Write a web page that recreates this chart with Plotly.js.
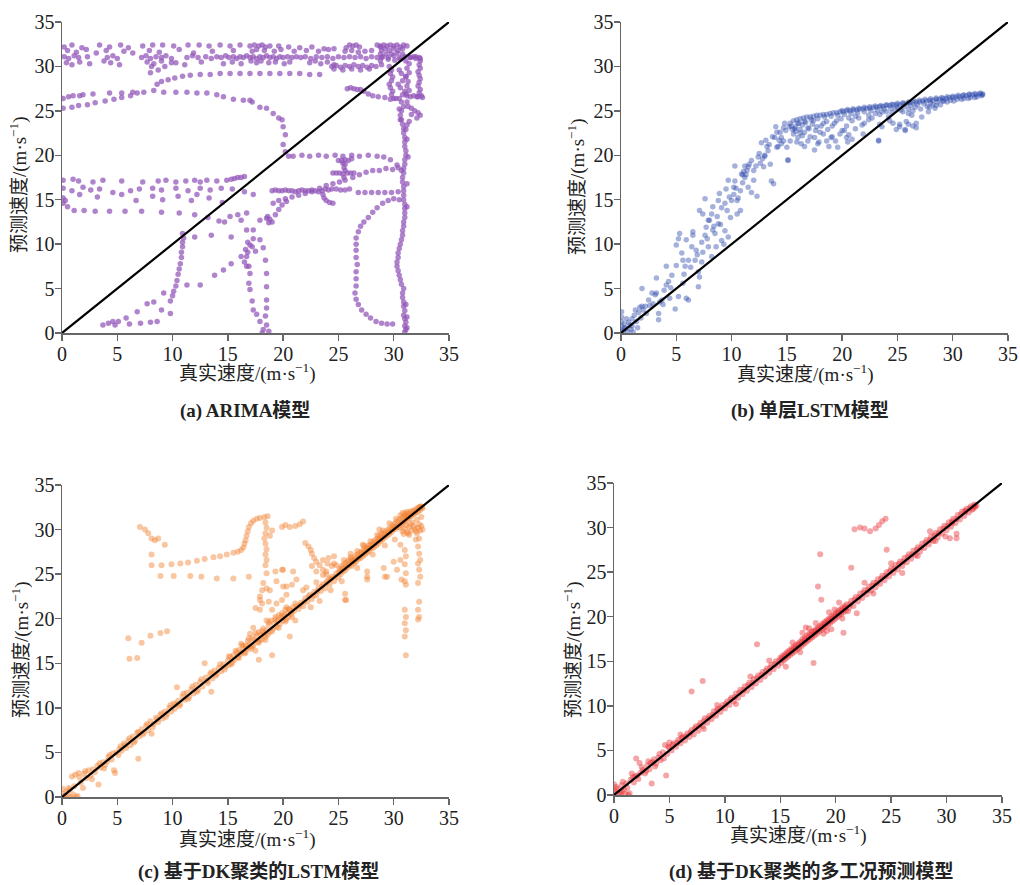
<!DOCTYPE html>
<html>
<head>
<meta charset="utf-8">
<script src="https://cdn.plot.ly/plotly-3.0.1.min.js"></script>
<style>
  html, body { margin: 0; padding: 0; background: #fff; }
  #chart { width: 1020px; height: 885px; }
</style>
</head>
<body>
<div id="chart"></div>
<script>
// ---------- shared axis settings ----------
const axisTicks = [0, 5, 10, 15, 20, 25, 30, 35];
const axisRange = [0, 35];
const refLine = [0, 35];          // y = x reference line end points

const panelCaptions = [
  "(a) ARIMA模型",
  "(b) 单层LSTM模型",
  "(c) 基于DK聚类的LSTM模型",
  "(d) 基于DK聚类的多工况预测模型"
];
const xTitle = "真实速度/(m·s<sup>−1</sup>)";
const yTitle = "预测速度/(m·s<sup>−1</sup>)";

// ---------- (a) ARIMA: [true speed, predicted speed] ----------
const arimaTopRow = [[0.2,32.2],[0.9,32.4],[1.8,32.1],[3.4,32.4],[4.3,32.2],[5.3,32.4],[6.0,32.1],[7.3,32.3],[8.2,32.4],[9.1,32.4],[10.1,32.3],[11.4,32.4],[12.4,32.4],[13.3,32.3],[14.3,32.4],[15.2,32.3],[16.1,32.4],[17.0,32.3],[17.4,32.4],[17.8,32.3],[18.1,32.4],[18.4,32.2],[18.8,32.3],[19.6,32.3],[20.5,32.2],[21.5,32.1],[22.6,32.2],[23.7,32.0],[24.6,32.0],[25.7,32.1],[26.0,32.4],[26.3,32.3],[26.6,32.4],[26.9,32.2],[28.5,32.4],[28.8,32.3],[29.1,32.4],[29.4,32.3],[29.7,32.4],[30.0,32.3],[30.3,32.4],[30.6,32.2],[30.9,32.4],[31.2,32.3]];
const arimaRow318 = [[0.5,31.8],[1.3,31.6],[2.2,31.9],[3.1,31.5],[4.0,31.8],[5.6,31.7],[6.4,31.5],[7.9,31.8],[8.8,31.6],[10.6,31.9],[11.9,31.5],[13.6,31.7],[15.5,31.8],[17.2,31.7],[17.6,31.9],[18.3,31.8],[19.2,31.7],[19.8,31.9],[21.0,31.7],[22.1,31.8],[23.2,31.7],[24.1,31.9],[25.6,31.7],[26.2,31.8],[26.8,31.6],[27.4,31.7],[28.0,31.8]];
const arimaRow31 = [[0.2,31.1],[0.6,30.9],[1.1,31.2],[1.5,31.0],[2.3,31.1],[4.1,31.0],[4.6,31.2],[5.0,30.9],[7.2,31.0],[7.6,31.2],[8.0,30.9],[8.5,31.1],[9.0,31.0],[9.4,31.2],[9.9,30.9],[11.3,31.0],[11.8,31.2],[12.3,31.0],[13.0,31.1],[13.5,30.9],[14.0,31.1],[14.4,31.0],[14.8,31.2],[15.1,31.0],[15.5,31.1],[15.8,30.9],[16.1,31.1],[16.4,31.0],[16.7,31.2],[17.0,31.0],[17.3,31.1],[17.6,30.9],[17.9,31.1],[18.2,31.0],[18.5,31.2],[18.8,31.0],[19.1,31.1],[19.4,30.9],[19.7,31.1],[20.0,31.0],[20.4,31.1],[20.8,31.0],[21.2,31.1],[21.6,31.0],[22.0,31.1],[22.5,30.9],[23.0,31.1],[23.5,31.0],[24.0,31.1],[24.5,30.9],[25.0,31.1],[25.5,31.0],[26.0,31.1],[26.5,31.0],[27.0,31.1],[27.5,30.9],[28.0,31.1],[28.5,31.0],[29.0,31.1],[29.5,31.0],[30.0,31.2],[30.5,31.0],[31.0,31.1],[31.5,31.0],[32.0,31.1],[32.4,30.9]];
const arimaRow305 = [[0.4,30.4],[0.9,30.2],[1.6,30.5],[2.5,30.3],[3.8,30.6],[4.4,30.4],[5.2,30.2],[7.7,30.5],[8.3,30.3],[9.0,30.6],[10.3,30.4],[11.1,30.2],[12.6,30.5],[14.6,30.3],[15.4,30.5],[16.2,30.3],[17.1,30.6],[17.6,30.4],[18.0,30.6],[18.7,30.4],[19.3,30.5],[20.1,30.3],[20.6,30.5],[22.4,30.4],[22.9,30.6],[23.4,30.3],[24.0,30.5],[24.6,30.2],[24.4,30.0],[24.8,30.1],[25.2,29.9],[25.6,30.1],[26.0,30.0],[26.4,30.2],[26.8,30.0],[27.2,30.1],[27.6,29.9],[28.0,30.1],[28.4,30.0],[24.6,29.7],[25.4,29.6],[26.2,29.7],[27.0,29.6],[27.8,29.7]];
const arimaCurve29 = [[8.1,30.0],[8.7,29.6],[9.3,30.0],[9.9,30.4],[8.0,29.3],[8.6,28.0],[9.0,28.3],[9.6,28.5],[10.2,28.7],[10.9,28.9],[11.6,29.0],[12.5,29.1],[13.4,29.1],[14.3,29.2],[15.2,29.2],[16.1,29.2],[17.0,29.2],[17.9,29.2],[18.8,29.2],[19.7,29.2],[20.6,29.2],[21.5,29.2],[22.4,29.1],[23.3,29.1]];
const arimaArc = [[0.1,26.4],[0.6,26.6],[1.0,26.7],[1.6,26.7],[1.9,26.8],[2.8,26.9],[4.3,27.0],[5.4,27.0],[6.4,27.1],[6.8,27.0],[7.4,27.1],[8.3,27.3],[0.1,25.3],[0.9,25.4],[1.5,25.6],[2.3,25.7],[3.0,25.9],[3.9,26.1],[4.7,26.3],[5.4,26.5],[6.2,26.7],[9.2,27.1],[10.3,27.1],[11.3,27.1],[12.2,27.0],[13.1,27.0],[14.0,26.8],[14.6,26.6],[15.5,26.3],[16.4,26.2],[17.0,26.2],[17.2,26.0],[17.9,25.4],[18.5,25.3],[19.1,24.7],[19.6,24.2],[19.9,24.0],[20.0,23.2],[20.2,22.3],[20.0,21.2],[20.2,20.4],[20.5,19.9]];
const arimaRow20 = [[20.9,19.9],[21.7,20.0],[22.4,19.9],[23.2,20.0],[23.9,19.9],[24.7,20.0],[25.4,19.9],[26.2,20.0],[26.9,19.9],[27.7,20.0],[28.5,19.9],[29.1,19.8],[29.7,19.5],[30.3,18.9],[30.7,18.3]];
const arimaMainVertical = [[31.0,0.1],[31.1,0.4],[31.0,0.8],[31.1,1.2],[31.0,1.6],[30.9,2.0],[31.0,2.5],[30.9,3.0],[30.9,3.5],[30.8,4.0],[30.8,4.5],[30.9,5.0],[30.7,5.5],[30.6,6.0],[30.5,6.5],[30.4,7.0],[30.3,7.5],[30.3,8.0],[30.4,8.5],[30.4,9.0],[30.5,9.5],[30.6,10.0],[30.7,10.5],[30.8,11.0],[30.8,11.5],[30.9,12.0],[30.9,12.5],[31.0,13.0],[31.0,13.5],[31.0,14.0],[31.0,14.5],[30.9,15.0],[30.9,15.5],[30.9,16.0],[30.9,16.5],[30.8,17.0],[30.8,17.5],[30.9,18.0],[30.9,18.5],[31.0,19.0],[31.0,19.5],[31.1,20.0],[31.1,20.5],[31.0,21.0],[31.0,21.5],[31.0,22.0],[30.9,22.5],[30.9,23.0],[30.8,23.5],[30.7,24.0],[30.6,24.5],[30.7,25.0],[30.9,25.5],[30.7,26.0],[30.5,26.4],[30.8,26.8],[31.0,27.2],[30.6,27.6],[30.4,28.0],[30.8,28.4],[31.1,28.8],[30.7,29.2],[30.5,29.6],[31.2,0.6],[31.2,1.8],[31.1,3.2],[31.2,14.2],[31.2,16.8],[31.3,19.8],[31.2,21.8],[30.6,24.0],[30.5,25.2]];
const arimaRightBox = [[32.3,31.0],[32.4,30.6],[32.3,30.2],[32.4,29.8],[32.2,29.4],[32.3,29.0],[32.4,28.6],[32.3,28.2],[32.2,27.8],[32.4,27.4],[32.3,27.0],[32.2,26.6],[31.8,31.1],[31.5,31.0],[32.0,30.9],[31.2,26.7],[31.5,26.6],[31.8,26.7],[32.1,26.6],[32.5,26.7],[32.6,26.5],[31.6,25.3],[31.9,25.0],[32.2,24.8],[32.4,24.5],[32.1,24.2],[31.6,24.6],[31.3,25.5],[31.2,26.0],[31.4,23.8],[31.2,23.4],[31.1,22.9],[29.6,30.0],[29.8,29.6],[29.7,29.2],[29.9,28.8],[29.8,28.4],[29.6,28.0],[29.7,27.6],[29.9,27.2],[29.8,26.8],[30.0,26.4],[28.8,32.2],[28.9,31.8],[28.8,31.4],[28.9,31.0],[28.8,30.6],[28.9,30.2],[29.2,32.0],[29.6,31.8],[30.0,32.0],[30.4,31.8],[30.8,32.0],[29.3,31.4],[29.8,31.4],[30.3,31.5],[30.8,31.4],[29.5,30.8],[30.1,30.7],[30.6,30.8],[31.1,30.6],[31.4,30.3],[31.2,29.8],[31.4,29.3],[31.1,28.9],[31.3,28.3],[31.2,27.8],[31.4,27.3],[31.1,26.9]];
const arimaRow275 = [[25.8,27.5],[26.1,27.6],[26.4,27.5],[26.7,27.4],[27.0,27.4],[27.3,27.2],[27.7,26.9],[28.1,26.7],[28.6,26.6],[29.2,26.5],[29.7,26.3],[30.2,26.4]];
const arimaCross = [[25.0,19.4],[25.3,19.4],[25.6,19.5],[25.9,19.4],[26.2,19.6],[25.6,19.0],[25.5,18.6],[25.6,18.3],[25.5,17.5],[25.6,17.2],[24.5,18.0],[24.8,18.0],[25.1,18.0],[25.4,17.9],[25.8,18.0],[26.1,18.0],[26.4,18.0],[25.4,19.1]];
const arimaRow16 = [[19.0,16.0],[19.3,16.1],[19.6,16.0],[19.9,16.0],[20.2,16.1],[20.5,16.0],[20.8,16.0],[21.1,15.9],[21.4,16.0],[21.7,16.1],[22.0,16.0],[22.3,16.0],[22.6,16.1],[22.9,16.0],[23.2,15.9],[23.5,16.0],[23.8,16.2],[24.1,16.1],[24.4,16.2],[24.8,16.2],[25.2,16.1],[25.6,16.1],[26.0,16.2],[26.8,15.8],[27.4,15.8],[28.0,15.8],[28.6,15.8],[29.2,15.8],[29.8,15.8],[30.4,15.9],[23.6,15.6],[23.7,15.2],[23.9,14.9],[24.2,14.7],[24.5,14.6]];
const arimaRise = [[19.1,14.6],[19.6,14.9],[20.2,15.1],[20.8,15.3],[21.4,15.5],[22.0,15.7],[22.6,15.9],[23.3,16.3],[23.9,16.6],[24.5,16.8],[25.1,17.0],[26.3,17.5],[26.9,17.8],[27.5,18.1],[28.1,18.3],[28.7,18.3],[29.3,18.5],[29.9,18.4],[30.4,18.6]];
const arimaLeftRows = [[0.1,17.2],[1.0,17.3],[1.5,17.1],[2.8,17.0],[3.7,17.2],[5.4,17.1],[7.3,17.0],[8.7,17.1],[9.4,17.2],[10.3,17.0],[11.2,17.1],[12.0,17.2],[12.5,17.0],[13.1,17.2],[14.0,17.1],[14.9,17.2],[15.3,17.3],[15.6,17.4],[15.9,17.5],[16.2,17.5],[16.5,17.6],[0.1,16.3],[0.9,16.0],[1.9,16.4],[2.6,16.1],[3.4,16.2],[4.6,15.8],[6.2,16.0],[7.0,16.2],[8.2,16.3],[9.0,16.1],[10.3,16.3],[11.4,16.0],[12.5,16.3],[13.4,16.1],[14.4,16.3],[15.4,16.2],[16.5,15.9],[17.3,15.6],[0.1,15.2],[0.3,14.9],[1.6,15.6],[3.2,15.3],[5.4,15.6],[6.7,14.9],[8.2,15.4],[9.1,15.0],[10.5,15.4],[11.7,14.9],[12.2,15.6],[13.3,15.2],[14.5,14.7],[0.1,14.6],[0.5,14.2],[1.1,13.8],[2.0,13.8],[3.0,13.7],[4.3,13.7],[5.7,13.7],[7.2,13.7],[9.0,13.6],[10.6,13.5],[12.0,13.3],[13.2,13.0],[14.2,12.6]];
const arimaLowLeft = [[3.7,0.9],[4.2,1.1],[4.6,1.3],[4.8,0.9],[5.1,1.3],[5.8,1.7],[6.1,1.0],[7.1,1.1],[8.0,1.2],[8.6,1.3],[6.8,2.4],[7.7,3.3],[8.3,3.5],[9.2,4.5],[9.8,2.2],[9.0,2.6],[10.9,11.2],[11.0,10.7],[10.9,10.2],[10.9,9.7],[10.8,9.1],[10.8,8.5],[10.7,7.8],[10.6,7.2],[10.5,6.6],[10.4,5.9],[10.3,5.3],[10.1,4.7],[10.0,4.2],[9.8,3.6],[11.3,5.4],[12.5,5.4],[13.8,6.5],[14.6,7.1],[15.3,7.8],[16.2,8.6],[16.5,8.0],[16.8,9.1],[17.2,9.7],[12.0,10.8],[13.5,11.0],[14.7,12.5],[15.3,10.8],[16.2,12.7],[16.7,11.6],[17.3,10.6],[15.2,13.1],[15.9,13.3],[16.7,13.5]];
const arimaLowMid = [[16.7,8.6],[16.9,7.5],[16.7,7.5],[17.0,6.7],[16.9,5.6],[17.0,4.9],[17.2,3.6],[17.3,2.6],[17.6,2.1],[17.9,1.3],[18.2,0.4],[18.1,0.0],[17.9,10.5],[18.2,9.6],[18.4,8.2],[18.5,6.7],[18.5,5.2],[18.5,3.7],[18.5,2.8],[18.4,1.9],[18.5,0.9],[18.7,0.2],[17.3,11.6],[17.9,12.7],[18.5,12.9],[18.7,12.4],[19.0,12.5],[19.3,13.3],[19.6,13.9],[19.9,14.4],[20.3,14.8],[16.6,9.4],[17.0,9.9],[17.5,9.2],[16.8,10.2],[18.8,12.8],[18.6,13.1]];
const arimaLoop = [[30.5,15.0],[30.0,15.1],[29.5,14.9],[29.0,14.6],[28.5,14.1],[28.1,13.6],[27.7,13.0],[27.3,12.5],[27.0,12.0],[26.8,11.4],[26.6,10.7],[26.6,10.0],[26.6,9.3],[26.6,8.5],[26.7,7.7],[26.6,6.9],[26.6,6.1],[26.6,5.3],[26.5,4.5],[26.6,3.8],[26.8,3.2],[27.1,2.6],[27.5,2.1],[27.9,1.7],[28.4,1.3],[28.9,1.1],[29.4,1.0],[29.9,1.0]];

// ---------- (b) single-layer LSTM ----------
const lstmNearOrigin = [[0.05,0.3],[0.05,0.8],[0.05,1.3],[0.05,1.8],[0.05,2.4],[0.2,0.2],[0.3,1.0],[0.4,0.5],[0.5,1.6],[0.6,0.2],[0.8,0.9],[0.9,0.4],[1.0,1.6],[1.1,0.1],[1.2,2.0],[1.3,2.6],[1.4,1.3],[1.5,0.6],[1.6,2.3],[1.7,2.9],[1.8,1.7],[1.9,5.0],[1.9,3.0],[2.2,3.0],[2.3,2.2],[2.5,3.7],[2.6,3.1],[2.8,4.5],[3.1,4.3],[3.2,4.5],[3.4,2.2],[3.4,1.5],[3.5,3.5],[3.7,3.7],[3.8,3.2],[0.3,0.6],[0.7,1.2],[1.0,0.8],[2.0,2.6],[2.9,3.3]];
const lstmRising = [[3.2,6.2],[4.1,5.4],[4.1,7.5],[4.3,5.8],[4.4,3.9],[4.6,6.5],[4.9,2.7],[5.0,7.6],[5.0,9.9],[5.2,4.1],[5.2,10.6],[5.3,11.2],[5.5,9.0],[5.6,8.2],[5.6,5.6],[5.8,7.5],[5.9,10.5],[5.9,3.9],[6.1,3.7],[6.1,8.2],[6.4,9.7],[6.5,11.4],[6.5,11.0],[6.7,8.2],[6.8,9.3],[7.0,5.2],[7.0,6.9],[7.1,13.8],[7.1,6.3],[7.3,8.0],[7.4,9.1],[7.4,13.4],[7.6,15.1],[7.6,11.0],[7.7,11.9],[7.9,12.7],[7.9,9.7],[8.0,12.7],[8.2,13.4],[8.2,8.6],[8.3,14.2],[8.3,11.6],[8.5,11.2],[8.6,9.7],[8.8,12.3],[8.8,14.9],[8.9,15.7],[9.1,14.1],[9.1,10.4],[9.3,10.0],[9.4,11.5],[9.4,14.6],[9.5,16.2],[9.7,10.8],[9.7,17.2],[9.9,13.0],[10.0,14.9],[10.2,15.6],[10.2,16.4],[10.3,17.1],[10.3,18.8],[10.5,14.9],[10.5,13.4],[10.8,16.0],[10.8,13.8],[10.9,17.9],[11.0,17.8],[11.1,18.2],[11.2,17.5],[11.2,18.8],[11.4,18.3],[11.5,18.7],[11.5,16.4],[11.8,15.8],[11.8,19.4],[12.0,18.3],[12.0,17.2],[12.3,15.4],[12.4,19.8],[12.6,19.1],[12.7,21.4],[12.9,18.7],[13.0,19.9],[13.0,20.0],[13.2,21.0],[13.3,20.5],[13.5,19.0],[13.6,17.1],[13.8,16.8],[13.9,22.0],[14.0,23.2],[14.1,20.9],[14.2,21.0],[14.4,22.6],[14.5,22.0],[14.5,21.3],[14.7,21.6],[14.7,23.1],[14.8,23.6],[15.0,20.9],[15.1,19.5],[15.1,19.4],[15.3,21.6],[15.4,23.3],[15.6,22.4],[15.7,23.0],[15.9,21.5],[16.0,22.0],[16.2,22.5],[16.3,21.3],[16.6,21.0],[16.6,22.6],[16.9,21.6],[17.1,22.1],[17.5,20.6],[17.5,22.0],[17.8,21.3],[17.9,21.5],[18.3,22.4],[18.6,21.6],[18.8,21.0],[19.0,22.0],[19.1,22.1],[19.4,21.6],[19.6,20.9],[20.0,22.8],[20.2,22.8],[20.4,22.0],[20.5,21.5],[20.6,22.3],[20.9,21.8],[21.2,23.0],[21.8,23.4],[21.9,22.4],[22.4,24.0],[23.3,21.7],[23.3,21.6],[23.4,23.5],[23.6,23.2],[24.2,24.3],[24.3,23.9],[24.6,23.6],[24.9,22.9],[25.2,23.2],[25.2,23.5],[25.7,22.9],[25.7,22.8],[25.8,23.8],[26.0,24.7],[26.0,23.5],[26.3,24.5],[26.4,23.3],[26.7,23.6],[26.7,23.1],[27.2,24.3],[27.8,24.9],[28.2,25.7],[28.4,25.3],[29.1,26.1]];
const lstmExtra = [[3.9,4.8],[4.5,5.1],[5.7,6.6],[6.3,7.4],[6.9,8.8],[7.3,10.2],[7.8,10.6],[8.4,12.0],[8.7,13.1],[9.0,12.2],[9.6,13.8],[9.8,15.3],[10.4,16.3],[10.6,15.2],[11.0,16.9],[11.3,17.8],[11.6,19.0],[12.2,18.8],[12.5,20.2],[12.8,19.6],[13.1,21.7],[13.4,21.2],[13.7,22.1],[14.1,22.6],[14.3,21.7],[14.9,22.8],[15.2,23.2],[15.5,22.9],[15.8,22.7],[16.1,23.6],[16.4,22.2],[16.7,23.7],[17.0,23.0],[17.4,23.9],[17.7,23.2],[18.0,22.6],[18.3,23.6],[18.7,22.9],[19.1,23.3],[19.5,23.9],[19.8,22.4],[20.4,23.3],[20.9,23.9],[21.5,24.2],[22.0,23.6],[22.7,24.2],[23.4,24.6],[24.0,24.9],[24.8,25.2],[25.5,24.9],[26.4,25.0],[27.1,25.2],[27.9,25.4],[28.5,25.6],[29.5,26.0],[30.1,26.1],[30.8,26.3],[31.4,26.4],[32.0,26.5]];
const lstmBand = [[15.3,23.6],[15.6,23.9],[15.9,24.0],[16.2,24.1],[16.5,24.2],[16.8,24.3],[17.1,24.3],[17.4,24.4],[17.7,24.5],[18.0,24.5],[18.3,24.6],[18.6,24.6],[18.9,24.7],[19.2,24.8],[19.5,24.8],[19.8,24.9],[20.1,24.9],[20.4,25.0],[20.7,25.0],[21.0,25.1],[21.3,25.1],[21.6,25.2],[21.9,25.2],[22.2,25.3],[22.5,25.3],[22.8,25.4],[23.1,25.4],[23.4,25.5],[23.7,25.5],[24.0,25.6],[24.3,25.6],[24.6,25.7],[24.9,25.7],[25.2,25.7],[25.5,25.8],[25.8,25.8],[26.1,25.9],[26.4,25.9],[26.7,26.0],[27.0,26.0],[27.3,26.1],[27.6,26.1],[27.9,26.2],[28.2,26.2],[28.5,26.3],[28.8,26.3],[29.1,26.4],[29.4,26.4],[29.7,26.5],[30.0,26.5],[30.3,26.6],[30.6,26.6],[30.9,26.7],[31.2,26.7],[31.5,26.8],[31.8,26.8],[32.1,26.8],[32.4,26.9],[32.7,26.9],[16.0,23.6],[16.6,23.8],[17.2,24.0],[17.8,24.1],[18.4,24.3],[19.0,24.4],[19.6,24.5],[20.2,24.6],[20.8,24.7],[21.4,24.8],[22.0,24.9],[22.6,25.0],[23.2,25.1],[23.8,25.2],[24.4,25.3],[25.0,25.4],[25.6,25.5],[26.2,25.6],[26.8,25.7],[27.4,25.8],[28.0,25.9],[28.6,26.0],[29.2,26.1],[29.8,26.2],[30.4,26.3],[31.0,26.4],[31.6,26.5],[32.2,26.6],[32.6,26.7],[15.8,23.2],[16.2,22.9],[16.4,23.4],[16.9,23.1],[17.3,23.5],[17.6,22.8],[18.1,23.3],[18.6,23.8],[19.3,23.6],[19.9,24.1],[20.6,24.2],[21.2,24.4],[22.4,24.5],[23.0,24.7],[23.6,24.9],[24.5,24.8],[25.3,25.1],[26.0,25.2],[26.6,25.4],[27.7,25.5],[28.9,25.7],[20.0,25.05],[20.5,25.15],[21.0,25.25],[21.5,25.3],[22.0,25.4],[22.5,25.45],[23.0,25.55],[23.5,25.6],[24.0,25.7],[24.5,25.75],[25.0,25.85],[25.5,25.9],[26.0,26.0],[26.5,26.1],[27.0,26.2],[27.5,26.3],[28.0,26.35],[28.5,26.45],[29.0,26.5],[29.5,26.6],[30.0,26.65],[30.5,26.75],[31.0,26.8],[31.5,26.9],[32.0,26.95],[32.5,27.0],[32.7,26.8]];

// ---------- (c) DK clustering + LSTM ----------
const dkLstmMain = [[0.0,0.4],[0.1,0.9],[0.2,0.1],[0.4,0.6],[0.5,0.2],[0.7,0.8],[0.8,0.0],[1.0,0.3],[1.1,1.2],[1.3,0.0],[1.4,0.1],[0.9,2.3],[1.2,2.5],[1.5,2.7],[1.7,1.6],[1.9,1.0],[2.0,2.6],[2.2,2.1],[2.4,3.0],[2.6,2.4],[2.8,3.1],[3.0,2.8],[3.2,3.5],[3.3,1.4],[3.5,3.3],[3.7,3.9],[3.9,3.6],[4.1,4.0],[4.3,4.7],[4.5,4.2],[4.7,3.0],[4.8,2.7],[4.9,5.0],[5.1,4.7],[5.3,5.7],[5.4,5.2],[5.6,6.0],[5.8,5.5],[6.0,6.3],[6.2,5.8],[6.4,6.8],[6.6,6.3],[6.8,7.2],[6.9,4.3],[7.0,6.8],[7.2,7.6],[7.4,7.2],[7.6,8.0],[7.8,7.5],[8.0,8.5],[8.1,7.1],[8.3,8.2],[8.5,8.9],[8.7,8.4],[8.9,9.2],[9.1,8.8],[9.3,9.6],[9.5,9.3],[9.7,10.0],[9.9,9.6],[10.1,10.5],[10.2,9.9],[10.4,12.3],[10.5,10.8],[10.7,10.4],[10.9,11.3],[11.1,10.9],[11.3,11.7],[11.5,11.2],[11.7,12.1],[11.9,11.6],[12.1,12.6],[12.3,12.0],[12.5,12.9],[12.7,12.4],[12.9,15.0],[13.0,13.4],[13.2,12.8],[13.4,13.8],[13.5,11.8],[13.6,13.3],[13.8,14.2],[14.0,13.8],[14.2,14.5],[14.4,14.1],[14.6,14.9],[14.8,14.6],[15.0,15.3],[15.1,14.8],[15.2,15.7],[15.4,15.1],[15.5,15.9],[15.6,15.4],[15.8,16.2],[15.9,15.7],[16.0,16.5],[16.1,16.0],[16.2,17.2],[16.3,16.3],[16.4,16.9],[16.5,16.1],[16.6,17.0],[16.7,16.6],[16.8,17.5],[16.9,16.8],[17.0,18.3],[17.0,17.2],[17.1,16.6],[17.2,17.8],[17.3,17.0],[17.3,19.0],[17.4,17.6],[17.5,16.4],[17.6,18.1],[17.7,17.4],[17.8,15.4],[17.8,18.5],[17.9,17.6],[18.0,18.2],[18.1,17.7],[18.2,18.9],[18.3,18.3],[18.4,17.6],[18.5,19.8],[18.5,18.7],[18.6,18.2],[18.7,19.3],[18.8,18.5],[18.9,19.8],[19.0,21.0],[19.0,15.9],[19.1,18.9],[19.2,19.5],[19.3,20.2],[19.4,21.7],[19.4,19.1],[19.5,19.8],[19.6,20.4],[19.7,19.4],[19.8,20.1],[19.9,22.1],[19.9,20.6],[20.0,19.8],[20.1,20.4],[20.2,21.0],[20.3,21.3],[20.3,19.9],[20.4,20.6],[20.5,20.2],[20.6,18.0],[20.6,21.0],[20.7,20.5],[20.8,20.8],[20.9,21.3],[21.0,20.9],[21.1,19.8],[21.2,21.4],[21.4,21.1],[21.6,21.8],[21.8,21.4],[22.0,22.3],[22.2,21.9],[22.4,22.7],[22.6,22.2],[22.8,23.0],[23.0,22.6],[23.2,23.5],[23.4,23.1],[23.6,23.9],[23.8,23.4],[24.0,24.3],[24.2,23.8],[24.4,24.7],[24.6,24.2],[24.8,25.1],[25.0,24.6],[25.1,25.6],[25.2,25.0],[25.3,25.9],[25.4,25.3],[25.5,26.1],[25.6,25.4],[25.7,26.3],[25.8,25.7],[25.9,26.5],[26.0,26.0],[26.1,26.7],[26.2,25.9],[26.3,26.6],[26.4,26.2],[26.5,27.0],[26.6,26.4],[26.7,27.2],[26.8,26.7],[26.9,27.4],[27.0,26.8],[27.1,27.5],[27.2,27.0],[27.3,27.8],[27.4,27.2],[27.5,28.0],[27.6,27.4],[27.7,28.2],[27.8,27.6],[27.9,28.3],[28.0,27.9],[28.1,28.6],[28.2,28.0],[28.3,28.8],[28.4,28.2],[28.5,29.0],[28.6,28.4],[28.7,29.3],[28.8,28.7],[28.9,29.5],[29.0,28.9],[29.1,29.6],[29.2,29.1],[29.3,29.8],[29.4,29.3],[29.5,30.0],[29.6,29.5],[29.7,30.2],[29.8,29.7],[29.9,30.5],[30.0,30.0],[30.1,30.7],[30.2,30.1],[30.3,30.9],[30.4,30.3],[30.5,31.1],[30.6,30.5],[30.7,31.3],[30.8,30.7],[30.9,31.5],[31.0,30.9],[31.1,31.6],[31.2,31.1],[31.3,31.8],[31.4,31.3],[31.5,32.0],[31.6,31.5],[31.7,32.1],[31.8,31.7],[31.9,32.2],[32.0,31.9],[32.1,32.4],[32.2,32.0],[32.3,32.5],[32.4,32.2],[32.5,32.6],[32.6,32.4]];
const dkLstmExtra = [[0.3,0.0],[0.6,1.0],[1.6,2.2],[2.1,2.9],[2.7,2.0],[3.4,3.8],[3.8,3.2],[4.2,4.5],[4.6,4.9],[5.2,5.4],[5.7,5.8],[6.1,6.6],[6.5,6.1],[6.9,7.3],[7.3,7.0],[7.7,8.2],[8.2,7.8],[8.6,8.7],[9.0,9.4],[9.4,9.0],[9.8,10.3],[10.3,10.4],[10.6,10.2],[11.0,11.6],[11.4,11.0],[11.8,12.4],[12.2,11.8],[12.6,13.2],[13.1,13.0],[13.5,14.0],[13.9,13.6],[14.3,14.9],[14.7,14.3],[15.1,15.8],[15.3,14.9],[15.7,16.4],[16.0,15.6],[16.3,17.0],[16.6,16.2],[16.9,17.8],[17.2,16.9],[17.5,18.4],[17.8,17.3],[18.1,18.6],[18.4,18.0],[18.7,19.6],[19.0,18.6],[19.3,19.9],[19.6,19.0],[19.9,20.3],[20.2,19.7],[20.5,21.1],[20.8,20.2],[21.1,21.7],[21.5,21.5],[21.9,21.9],[22.3,22.5],[22.7,22.6],[23.1,23.1],[23.5,23.6],[23.9,24.0],[24.3,24.4],[24.7,24.7],[25.05,25.2],[25.35,25.6],[25.65,25.8],[25.95,26.1],[26.25,26.4],[26.55,26.7],[26.85,26.9],[27.15,27.3],[27.45,27.6],[27.75,27.9],[28.05,28.2],[28.35,28.5],[28.65,28.8],[28.95,29.1],[29.25,29.4],[29.55,29.7],[29.85,30.0],[30.15,30.3],[30.45,30.6],[30.75,30.9],[31.05,31.2],[31.35,31.5],[31.65,31.8],[31.95,32.0],[32.25,32.3],[32.55,32.5],[30.2,31.2],[30.6,31.6],[31.0,31.8],[30.8,31.9],[31.2,32.0],[29.0,29.9],[28.5,29.4],[27.9,28.7],[27.3,28.2],[26.7,27.6],[26.1,26.9],[25.5,26.6],[31.4,29.4],[31.7,30.8],[32.1,31.1],[32.5,31.4],[32.0,28.9],[25.2,25.4],[26.4,26.5],[27.6,27.8],[28.8,29.0],[30.0,30.3],[31.2,31.4],[32.4,32.6]];
const dkLstmBlob = [[30.6,30.2],[30.8,29.8],[31.0,30.1],[31.2,29.7],[31.4,30.3],[31.6,29.9],[31.8,30.4],[32.0,29.8],[32.2,30.2],[32.4,29.9],[32.5,30.4],[32.6,30.0],[31.1,30.5],[31.5,30.6],[31.9,30.1],[32.3,30.6],[30.9,29.5],[31.3,29.6],[32.1,29.6],[22.1,23.5],[22.5,21.3],[23.0,24.1],[23.3,22.0],[23.9,25.0],[24.3,23.2],[24.8,26.0],[25.3,24.2],[25.6,22.8],[25.6,22.1],[26.1,27.3],[26.7,25.7],[27.2,28.3],[27.6,25.3],[27.6,24.7],[28.1,27.2],[28.7,30.0],[29.2,28.2],[29.4,24.7],[29.6,30.7],[30.0,26.4],[30.3,25.5],[30.1,28.9],[30.6,28.3]];
const dkLstmOutliers = [[7.05,30.3],[7.5,30.0],[7.8,29.6],[8.1,29.0],[8.4,28.8],[8.7,29.0],[9.3,28.3],[8.1,27.2],[8.1,26.0],[8.9,24.8],[10.1,24.8],[11.6,24.8],[12.6,24.7],[14.0,24.5],[15.5,24.5],[16.9,24.7],[18.5,25.1],[19.3,25.3],[20.0,25.5],[9.0,26.0],[9.9,26.1],[10.7,26.2],[11.4,26.3],[12.2,26.5],[12.9,26.7],[13.7,26.9],[14.3,27.0],[14.9,27.2],[15.5,27.4],[15.9,27.5],[16.2,27.7],[16.4,28.0],[16.5,28.4],[16.6,28.8],[16.7,29.3],[16.8,29.8],[16.9,30.3],[17.1,30.7],[17.3,31.0],[17.6,31.2],[17.9,31.3],[18.3,31.4],[18.6,31.5],[18.4,30.8],[18.5,30.2],[18.4,29.6],[18.3,29.0],[18.4,28.4],[18.5,27.8],[18.4,27.2],[18.5,26.6],[18.4,26.0],[18.8,29.3],[19.0,29.9],[19.9,30.3],[20.2,30.5],[20.6,30.3],[21.1,30.4],[21.5,30.6],[21.8,30.9],[17.5,21.2],[17.9,22.1],[18.1,23.2],[18.5,23.4],[18.2,24.0],[18.8,23.2],[19.4,24.2],[19.9,25.5],[20.9,25.3],[21.2,24.4],[20.3,23.6],[21.8,23.2],[18.7,21.9],[17.9,22.5],[18.1,21.7],[17.9,21.0],[20.8,23.8],[20.0,23.6],[20.3,22.7],[22.0,28.5],[22.3,28.1],[22.5,27.7],[22.6,27.3],[22.8,26.8],[23.0,26.4],[23.3,26.0],[23.6,25.5],[23.9,25.3],[22.6,25.9],[23.0,25.3],[23.6,26.6],[24.0,26.2],[24.6,27.0],[24.4,25.9],[23.6,24.9],[24.2,24.5],[24.1,26.8],[24.6,26.2],[31.0,27.7],[31.1,27.0],[31.0,26.1],[31.1,25.1],[31.0,24.2],[31.1,23.8],[31.0,21.0],[31.1,20.2],[31.0,19.5],[31.1,18.7],[31.0,18.0],[31.1,15.9],[32.3,29.0],[32.2,28.1],[32.3,27.3],[32.4,26.6],[32.2,26.2],[32.3,25.5],[32.4,24.7],[32.2,24.0],[32.3,21.9],[32.2,21.0],[32.3,20.2],[32.2,19.9],[30.6,26.6],[30.7,24.4],[29.1,25.7],[29.2,24.7],[27.6,24.4],[25.7,22.1],[6.0,17.8],[7.2,17.3],[8.0,18.1],[8.9,18.4],[9.5,18.6],[6.1,15.5],[6.8,15.6]];

// ---------- (d) DK clustering + multi-condition model ----------
const dkMultiMain = [[0.0,0.5],[0.0,1.2],[0.1,0.2],[0.3,0.7],[0.5,0.3],[0.6,0.0],[0.7,1.1],[0.9,0.6],[1.0,0.1],[1.1,1.3],[1.3,0.0],[1.4,0.2],[1.5,1.7],[1.6,2.4],[1.8,1.4],[2.0,4.1],[2.1,2.2],[2.3,3.6],[2.4,2.5],[2.6,2.8],[2.8,2.4],[3.0,3.3],[3.2,2.9],[3.4,1.3],[3.5,3.7],[3.6,4.0],[3.8,3.5],[4.0,4.2],[4.2,3.9],[4.4,4.8],[4.6,5.6],[4.7,2.2],[4.8,4.6],[5.0,5.3],[5.2,5.0],[5.4,5.8],[5.6,5.4],[5.8,6.2],[6.0,5.8],[6.2,6.5],[6.4,6.1],[6.6,6.9],[6.8,6.5],[7.0,11.6],[7.0,7.3],[7.2,6.8],[7.4,7.7],[7.6,7.2],[7.8,8.1],[8.0,12.8],[8.0,7.7],[8.2,8.6],[8.4,8.1],[8.6,8.9],[8.8,8.5],[9.0,9.4],[9.2,8.9],[9.4,9.7],[9.6,9.3],[9.8,10.1],[10.0,9.7],[10.2,10.5],[10.4,10.1],[10.6,10.9],[10.8,10.5],[11.0,11.4],[11.2,10.9],[11.4,11.8],[11.6,11.3],[11.8,12.2],[12.0,11.7],[12.2,12.6],[12.4,12.1],[12.6,13.0],[12.8,12.5],[12.9,16.9],[13.0,13.4],[13.2,12.9],[13.4,13.8],[13.6,13.3],[13.8,14.2],[14.0,13.7],[14.2,14.6],[14.4,14.1],[14.6,15.0],[14.8,14.5],[15.0,15.4],[15.1,14.8],[15.2,15.6],[15.3,15.1],[15.4,15.8],[15.5,15.3],[15.6,16.0],[15.7,15.5],[15.8,16.2],[15.9,15.7],[16.0,16.4],[16.1,15.9],[16.2,16.6],[16.3,16.1],[16.4,16.8],[16.5,16.3],[16.6,17.0],[16.7,16.5],[16.8,17.2],[16.9,16.7],[17.0,17.5],[17.1,16.9],[17.2,17.6],[17.3,17.1],[17.4,17.9],[17.5,17.3],[17.6,18.1],[17.7,17.5],[17.8,18.3],[17.9,17.7],[18.0,14.8],[18.0,18.4],[18.1,17.9],[18.2,18.6],[18.3,18.1],[18.4,18.8],[18.4,23.4],[18.5,18.3],[18.6,19.0],[18.6,27.0],[18.7,18.5],[18.7,21.9],[18.8,19.2],[18.9,18.7],[19.0,19.4],[19.1,18.9],[19.2,19.6],[19.3,19.1],[19.4,19.8],[19.5,19.3],[19.6,20.0],[19.7,19.5],[19.8,20.2],[19.9,19.7],[20.0,20.4],[20.1,19.9],[20.2,20.6],[20.3,20.1],[20.4,20.8],[20.5,20.3],[20.6,21.0],[20.7,18.2],[20.7,20.5],[20.8,21.2],[20.9,20.7],[21.0,21.4],[21.2,21.0],[21.4,21.8],[21.4,25.5],[21.6,21.2],[21.8,22.2],[21.9,20.4],[22.0,21.7],[22.2,22.6],[22.4,22.1],[22.6,23.0],[22.8,22.5],[23.0,23.4],[23.2,22.9],[23.4,23.8],[23.6,23.3],[23.8,24.2],[24.0,23.7],[24.2,24.6],[24.4,24.1],[24.6,27.5],[24.6,25.0],[24.8,24.5],[25.0,25.4],[25.2,24.9],[25.4,25.8],[25.6,25.3],[25.8,26.2],[26.0,25.7],[26.2,26.6],[26.4,26.1],[26.6,27.0],[26.8,26.5],[27.0,27.4],[27.2,26.9],[27.4,27.8],[27.6,27.3],[27.8,28.2],[28.0,27.7],[28.2,28.6],[28.4,28.1],[28.6,29.0],[28.8,28.5],[29.0,29.4],[29.2,28.9],[29.4,29.8],[29.6,29.3],[29.8,30.2],[30.0,29.7],[30.2,30.6],[30.3,28.8],[30.4,30.1],[30.6,31.0],[30.8,30.5],[30.9,28.8],[30.9,29.3],[31.0,31.4],[31.2,30.9],[31.4,31.8],[31.6,31.3],[31.8,32.1],[32.0,31.7],[32.2,32.4],[32.4,32.1],[32.5,32.6],[32.6,32.3],[32.7,32.5]];
const dkMultiExtra = [[0.2,0.9],[0.8,1.5],[1.2,0.8],[1.7,2.0],[2.2,1.8],[2.5,3.1],[2.9,2.7],[3.3,3.6],[3.7,3.2],[4.1,4.6],[4.5,4.1],[4.9,5.4],[5.3,5.6],[5.7,5.9],[6.1,6.4],[6.5,6.6],[6.9,7.0],[7.3,7.5],[7.7,7.8],[8.1,8.3],[8.5,8.6],[8.9,9.0],[9.3,9.5],[9.7,9.8],[10.1,10.2],[10.5,10.7],[10.9,11.0],[11.3,11.5],[11.7,11.8],[12.1,12.3],[12.5,12.6],[12.9,13.1],[13.3,13.5],[13.7,13.9],[14.1,14.3],[14.5,14.7],[14.9,15.1],[15.15,15.3],[15.45,15.6],[15.75,15.9],[16.05,16.2],[16.35,16.5],[16.65,16.8],[16.95,17.1],[17.25,17.4],[17.55,17.7],[17.85,18.0],[18.15,18.3],[18.45,18.6],[18.75,18.9],[19.05,19.2],[19.35,19.5],[19.65,19.8],[19.95,20.1],[20.25,20.4],[20.55,20.7],[20.85,21.0],[21.3,21.4],[21.7,21.9],[22.1,22.2],[22.5,22.7],[22.9,23.0],[23.3,23.5],[23.7,23.8],[24.1,24.3],[24.5,24.6],[24.9,25.1],[25.3,25.4],[25.7,25.9],[26.1,26.2],[26.5,26.7],[26.9,27.0],[27.3,27.5],[27.7,27.8],[28.1,28.3],[28.5,28.6],[28.9,29.1],[29.3,29.4],[29.7,29.9],[30.1,30.2],[30.5,30.7],[30.9,31.0],[31.3,31.5],[31.7,31.8],[32.1,32.2],[32.5,32.4],[16.1,17.1],[17.3,18.8],[19.6,18.6],[20.3,21.6],[22.6,23.8],[23.4,22.6],[25.0,26.0],[26.0,24.9],[27.4,26.8],[28.5,29.6],[29.9,29.0],[15.5,14.4],[14.0,15.1],[12.3,13.3],[11.0,10.2],[9.3,10.1],[8.1,7.4],[6.0,6.8],[5.0,5.9],[3.1,3.8],[1.9,2.1],[0.7,0.4],[17.6,18.7],[18.9,18.1],[19.9,20.8],[21.1,20.6],[29.0,28.5],[30.5,30.5],[31.7,31.9],[32.3,32.0],[16.8,16.0],[18.2,19.3],[19.2,18.4],[20.6,19.8],[17.0,18.2],[19.4,20.5]];
const dkMultiOutliers = [[21.7,29.8],[22.2,30.0],[22.6,29.9],[23.1,29.6],[23.6,29.9],[23.9,30.3],[24.2,30.7],[24.5,31.0]];

// ---------- build traces ----------
function toXY(lists) {
  const all = [].concat(...lists);
  return { x: all.map(p => p[0]), y: all.map(p => p[1]) };
}

const panels = [
  { data: [arimaTopRow, arimaRow318, arimaRow31, arimaRow305, arimaCurve29, arimaArc, arimaRow20, arimaMainVertical, arimaRightBox, arimaRow275, arimaCross, arimaRow16, arimaRise, arimaLeftRows, arimaLowLeft, arimaLowMid, arimaLoop],
    color: "rgba(145,85,185,0.72)", size: 5.5 },
  { data: [lstmNearOrigin, lstmRising, lstmExtra, lstmBand], color: "rgba(40,70,170,0.42)", size: 5.5 },
  { data: [dkLstmMain, dkLstmExtra, dkLstmBlob, dkLstmOutliers], color: "rgba(242,128,48,0.45)", size: 6 },
  { data: [dkMultiMain, dkMultiExtra, dkMultiOutliers], color: "rgba(232,40,45,0.42)", size: 6 }
];

const traces = [];
panels.forEach((p, i) => {
  const xy = toXY(p.data);
  const ax = i === 0 ? "" : String(i + 1);
  traces.push({
    type: "scatter", mode: "markers", x: xy.x, y: xy.y,
    xaxis: "x" + ax, yaxis: "y" + ax,
    marker: { size: p.size, color: p.color, line: { width: 0 } },
    hoverinfo: "x+y"
  });
  traces.push({
    type: "scatter", mode: "lines", x: refLine, y: refLine,
    xaxis: "x" + ax, yaxis: "y" + ax,
    line: { color: "#000", width: 2.2 }, hoverinfo: "skip"
  });
});

// ---------- layout ----------
const W = 1020, H = 885;
const px = v => v / W;
const py = v => 1 - v / H;

// plot areas in pixels: [left, right, top, bottom]
const boxes = [
  [62, 449, 22, 333],
  [621, 1008, 22, 333],
  [62, 449, 485, 797],
  [614, 1002, 483, 795]
];

const tickFont = { family: "Liberation Serif, 'Times New Roman', serif", size: 20, color: "#222" };
function axisCfg(domain, anchor) {
  return {
    domain: domain, anchor: anchor, range: axisRange, tickvals: axisTicks,
    showgrid: false, zeroline: false, showline: true,
    linecolor: "#666", linewidth: 1.5,
    ticks: "outside", ticklen: 6, tickwidth: 1.5, tickcolor: "#666",
    ticklabelstandoff: -4,
    tickfont: tickFont, fixedrange: true
  };
}

const layout = {
  width: W, height: H, margin: { l: 0, r: 0, t: 0, b: 0 },
  paper_bgcolor: "#fff", plot_bgcolor: "#fff", showlegend: false,
  annotations: []
};

boxes.forEach((b, i) => {
  const ax = i === 0 ? "" : String(i + 1);
  layout["xaxis" + ax] = axisCfg([px(b[0]), px(b[1])], "y" + ax);
  layout["yaxis" + ax] = axisCfg([py(b[3]), py(b[2])], "x" + ax);
});

const titleFont = { family: "Liberation Serif, 'Noto Sans CJK SC', serif", size: 19, color: "#222" };
const xTitlePos = [[247, 372], [805, 373], [247, 838], [798, 834]];
const yTitlePos = [[19, 185], [577, 187], [20, 650], [572, 650]];
const captionPos = [[245, 411], [810, 411], [258, 872], [811, 872]];

for (let i = 0; i < 4; i++) {
  layout.annotations.push({
    xref: "paper", yref: "paper", x: px(xTitlePos[i][0]), y: py(xTitlePos[i][1]),
    text: xTitle, showarrow: false, font: titleFont, xanchor: "center", yanchor: "middle"
  });
  layout.annotations.push({
    xref: "paper", yref: "paper", x: px(yTitlePos[i][0]), y: py(yTitlePos[i][1]),
    text: yTitle, showarrow: false, font: titleFont, textangle: -90,
    xanchor: "center", yanchor: "middle"
  });
  layout.annotations.push({
    xref: "paper", yref: "paper", x: px(captionPos[i][0]), y: py(captionPos[i][1]),
    text: "<b>" + panelCaptions[i] + "</b>", showarrow: false,
    font: { family: "Liberation Serif, 'Noto Sans CJK SC', serif", size: 19, color: "#222" },
    xanchor: "center", yanchor: "middle"
  });
}

Plotly.newPlot("chart", traces, layout, { displayModeBar: false, staticPlot: true });
</script>
</body>
</html>
